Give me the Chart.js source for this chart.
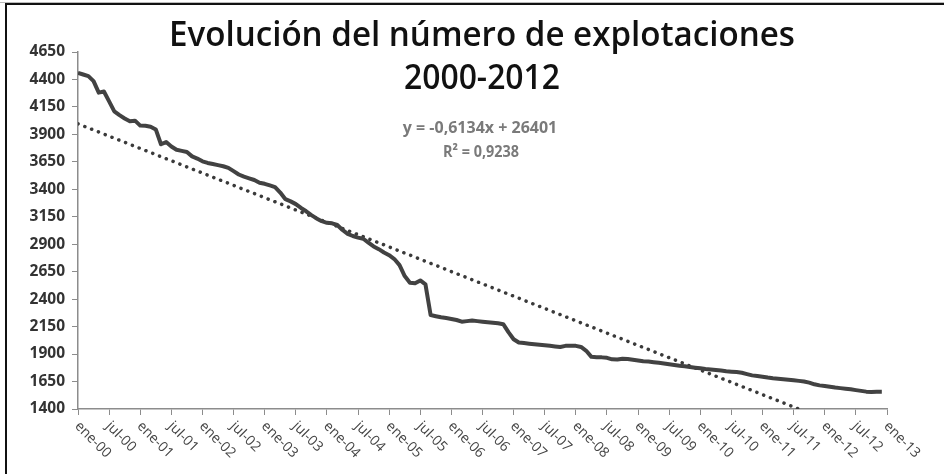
<!DOCTYPE html>
<html>
<head>
<meta charset="utf-8">
<script src="https://cdn.jsdelivr.net/npm/chart.js@4.4.1/dist/chart.umd.min.js"></script>
<style>
    html, body { margin: 0; padding: 0; background: #fff; }
    #wrap { position: relative; width: 944px; height: 474px; }
</style>
</head>
<body>
<div id="wrap"><canvas id="chart" width="944" height="474"></canvas></div>
<script>
// Tick labels (every 6 months, ene-00 .. ene-13)
const tickLabels = [
    'ene-00', 'jul-00', 'ene-01', 'jul-01', 'ene-02', 'jul-02', 'ene-03', 'jul-03',
    'ene-04', 'jul-04', 'ene-05', 'jul-05', 'ene-06', 'jul-06', 'ene-07', 'jul-07',
    'ene-08', 'jul-08', 'ene-09', 'jul-09', 'ene-10', 'jul-10', 'ene-11', 'jul-11',
    'ene-12', 'jul-12', 'ene-13'
];

// Monthly number of farms, one array per year (ene..dic)
const y2000 = [4460, 4445, 4430, 4385, 4280, 4290, 4200, 4110, 4075, 4045, 4020, 4025];
const y2001 = [3980, 3978, 3970, 3945, 3810, 3830, 3790, 3760, 3750, 3740, 3700, 3680];
const y2002 = [3655, 3640, 3630, 3620, 3610, 3595, 3565, 3535, 3515, 3500, 3485, 3460];
const y2003 = [3450, 3435, 3420, 3370, 3310, 3290, 3265, 3230, 3200, 3165, 3135, 3110];
const y2004 = [3095, 3090, 3075, 3030, 2995, 2975, 2960, 2950, 2915, 2880, 2855, 2825];
const y2005 = [2800, 2765, 2710, 2610, 2550, 2545, 2570, 2535, 2255, 2245, 2235, 2228];
const y2006 = [2220, 2210, 2195, 2200, 2205, 2200, 2195, 2190, 2185, 2180, 2172, 2100];
const y2007 = [2035, 2005, 2000, 1995, 1990, 1985, 1980, 1975, 1970, 1965, 1975, 1975];
const y2008 = [1975, 1965, 1930, 1875, 1872, 1870, 1866, 1852, 1850, 1858, 1855, 1848];
const y2009 = [1842, 1835, 1832, 1826, 1821, 1815, 1807, 1800, 1794, 1790, 1783, 1776];
const y2010 = [1770, 1764, 1760, 1755, 1750, 1744, 1740, 1736, 1730, 1718, 1706, 1700];
const y2011 = [1694, 1686, 1680, 1676, 1671, 1667, 1662, 1656, 1650, 1640, 1625, 1615];
const y2012 = [1610, 1603, 1595, 1590, 1585, 1580, 1572, 1565, 1558, 1555, 1556, 1556];

const explotaciones = [].concat(y2000, y2001, y2002, y2003, y2004, y2005, y2006,
    y2007, y2008, y2009, y2010, y2011, y2012);

// Linear trend (month index, value)
const trendMonths = [0, 139];
const trendValues = [3996, 1400];

const yMin = 1400, yMax = 4650, yStep = 250;

const titleLines = ['Evolución del número de explotaciones', '2000-2012'];
const equationLines = ['y = -0,6134x + 26401', 'R² = 0,9238'];

const overlay = {
    id: 'overlay',
    beforeDraw(chart) {
        const ctx = chart.ctx;
        ctx.save();
        ctx.fillStyle = '#fff';
        ctx.fillRect(0, 0, chart.width, chart.height);
        // frame (top + left edge of the pasted picture)
        ctx.fillStyle = '#bbb';
        ctx.fillRect(0, 2, chart.width, 1);
        ctx.fillStyle = '#111';
        ctx.fillRect(5, 3, chart.width - 5, 2);
        ctx.fillRect(5, 3, 2, chart.height - 3);
        ctx.restore();
    },
    afterDraw(chart) {
        const ctx = chart.ctx;
        const cx = 482;
        ctx.save();
        ctx.textAlign = 'center';
        ctx.textBaseline = 'alphabetic';
        ctx.fillStyle = '#111';
        ctx.font = '600 34px "Open Sans"';
        ctx.fillText(titleLines[0], cx, 46, 626);
        ctx.fillText(titleLines[1], cx, 89, 156);

        ctx.fillStyle = '#7a7a7a';
        ctx.font = 'bold 16px "Open Sans"';
        ctx.fillText(equationLines[0], 480, 133, 160);
        ctx.fillText(equationLines[1], 481, 157, 76);

        // x labels, rotated clockwise, starting under each tick
        const xs = chart.scales.x;
        ctx.fillStyle = '#444';
        ctx.font = '14px "Open Sans"';
        ctx.textAlign = 'left';
        ctx.textBaseline = 'middle';
        tickLabels.forEach((t, i) => {
            const px = xs.getPixelForValue(i * 6);
            ctx.save();
            ctx.translate(px - 1, xs.top + 15);
            ctx.rotate(Math.PI / 4);
            ctx.fillText(t, 0, 0);
            ctx.restore();
        });
        ctx.restore();
    }
};

function init() {
    const ctx = document.getElementById('chart').getContext('2d');
    new Chart(ctx, {
        type: 'line',
        data: {
            datasets: [{
                data: explotaciones.map((v, i) => ({ x: i, y: v })),
                borderColor: '#424242',
                borderWidth: 4,
                pointRadius: 0,
                tension: 0,
                borderJoinStyle: 'round'
            }, {
                data: trendMonths.map((m, i) => ({ x: m, y: trendValues[i] })),
                borderColor: '#3a3a3a',
                borderWidth: 3.5,
                borderDash: [0.1, 7.2],
                borderCapStyle: 'round',
                pointRadius: 0
            }]
        },
        options: {
            responsive: false,
            animation: false,
            layout: { padding: { top: 52, right: 57, left: 0, bottom: 0 } },
            plugins: { legend: { display: false }, tooltip: { enabled: false } },
            scales: {
                x: {
                    type: 'linear',
                    min: 0,
                    max: 156,
                    ticks: { display: false, stepSize: 6, autoSkip: false },
                    grid: { drawOnChartArea: false, drawTicks: true, tickLength: 6, color: '#8c8c8c' },
                    border: { color: '#8c8c8c', width: 1.5 },
                    afterFit: s => { s.height = 65; }
                },
                y: {
                    min: yMin,
                    max: yMax,
                    ticks: {
                        stepSize: yStep,
                        color: '#333',
                        padding: 7,
                        font: { family: '"Open Sans"', size: 15.5, weight: 'bold' },
                        callback: v => String(v)
                    },
                    grid: { drawOnChartArea: false, drawTicks: true, tickLength: 6, color: '#8c8c8c' },
                    border: { color: '#8c8c8c', width: 1.5 },
                    afterFit: s => { s.width = 78; }
                }
            }
        },
        plugins: [overlay]
    });
}

document.addEventListener('DOMContentLoaded', init);
</script>
</body>
</html>
